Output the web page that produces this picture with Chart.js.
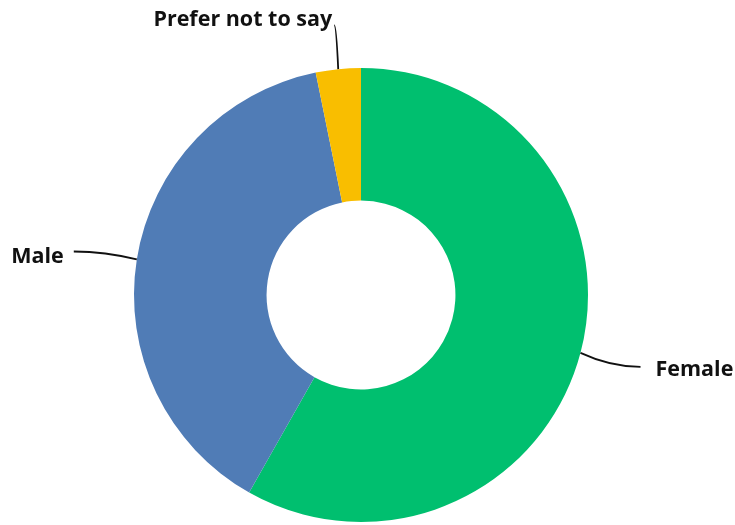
<!DOCTYPE html>
<html>
<head>
<meta charset="utf-8">
<script src="https://cdn.jsdelivr.net/npm/chart.js@4"></script>
<style>
  html, body { margin: 0; padding: 0; background: #fff; }
  #wrap { width: 735px; height: 525px; position: relative; }
</style>
</head>
<body>
<div id="wrap"><canvas id="donut"></canvas></div>
<script>
const labels = ["Female", "Male", "Prefer not to say"];
const shares = [58.2, 38.6, 3.2];
const colors = ["#00bf6f", "#507cb6", "#f9be00"];

// label anchor and bend for each leader line, relative to slice midpoint
const labelPos = [
  { dx: 60, dy: 14, align: "left", tx: 15, ty: 3 },
  { dx: -63, dy: -8, align: "right", tx: -10, ty: 5 },
  { dx: -4, dy: -44, align: "right", tx: -2, ty: -5 }
];

const leaderLabels = {
  id: "leaderLabels",
  afterDatasetsDraw(chart) {
    const ctx = chart.ctx;
    const meta = chart.getDatasetMeta(0);
    ctx.save();
    ctx.font = "bold 21.5px 'Open Sans', sans-serif";
    ctx.fillStyle = "#111";
    ctx.strokeStyle = "#111";
    ctx.lineWidth = 1.8;
    meta.data.forEach((arc, i) => {
      const p = arc.getProps(["x", "y", "startAngle", "endAngle", "outerRadius"], true);
      const mid = (p.startAngle + p.endAngle) / 2;
      const sx = p.x + Math.cos(mid) * p.outerRadius;
      const sy = p.y + Math.sin(mid) * p.outerRadius;
      const lp = labelPos[i];
      const ex = sx + lp.dx, ey = sy + lp.dy;
      ctx.beginPath();
      ctx.moveTo(sx, sy);
      ctx.quadraticCurveTo(sx + lp.dx * 0.5, ey, ex, ey);
      ctx.stroke();
      ctx.textAlign = lp.align;
      ctx.textBaseline = "middle";
      ctx.fillText(labels[i], ex + lp.tx, ey + lp.ty);
    });
    ctx.restore();
  }
};

new Chart(document.getElementById("donut"), {
  type: "doughnut",
  data: {
    labels: labels,
    datasets: [{
      data: shares,
      backgroundColor: colors,
      borderWidth: 0
    }]
  },
  options: {
    responsive: true,
    maintainAspectRatio: false,
    animation: false,
    cutout: "41.6%",
    layout: { padding: { top: 68, bottom: 3, left: 134, right: 147 } },
    plugins: {
      legend: { display: false },
      tooltip: { enabled: false }
    }
  },
  plugins: [leaderLabels]
});
</script>
</body>
</html>
